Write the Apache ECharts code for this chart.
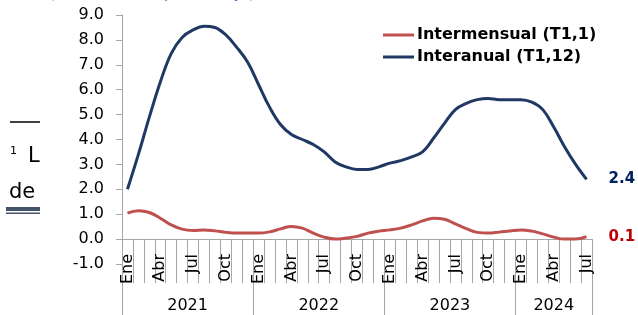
<!DOCTYPE html>
<html>
<head>
<meta charset="utf-8">
<script src="https://cdn.jsdelivr.net/npm/echarts@6/dist/echarts.min.js"></script>
<style>html,body{margin:0;padding:0;background:#fff}#c{width:638px;height:315px}</style>
</head>
<body>
<div id="c"></div>
<script>
var monthNames = ['Ene','Feb','Mar','Abr','May','Jun','Jul','Ago','Sep','Oct','Nov','Dic'];
var years = ['2021','2022','2023','2024'];
var monthsPerYear = [12, 12, 12, 7];
var shownMonths = ['Ene','Abr','Jul','Oct'];
var yTicks = {min: -1, max: 9, interval: 1};
var seriesNames = ['Intermensual (T1,1)', 'Interanual (T1,12)'];
var intermensual = [1.04,1.14,1.07,0.84,0.57,0.40,0.35,0.37,0.33,0.27,0.24,0.24,
                    0.24,0.29,0.41,0.51,0.44,0.24,0.08,0.0,0.04,0.11,0.24,0.32,
                    0.37,0.44,0.57,0.73,0.84,0.80,0.61,0.42,0.27,0.24,0.28,0.33,
                    0.37,0.32,0.21,0.08,0.0,0.0,0.1];
var interanual = [2.0,3.4,4.9,6.3,7.45,8.1,8.4,8.55,8.5,8.2,7.7,7.1,
                  6.2,5.3,4.6,4.2,4.0,3.8,3.5,3.1,2.9,2.8,2.8,2.9,
                  3.05,3.15,3.3,3.5,4.05,4.65,5.2,5.45,5.6,5.65,5.6,5.6,
                  5.6,5.5,5.2,4.5,3.7,3.0,2.4];

// build month categories
var categories = [];
years.forEach(function (y, yi) {
  for (var m = 0; m < monthsPerYear[yi]; m++) categories.push(monthNames[m] + ' ' + y);
});
// year axis: half-month boundary positions (boundaryGap false)
var nHalf = categories.length * 2 + 1;
var yearAxisData = [];
for (var k = 0; k < nHalf; k++) yearAxisData.push('k' + k);
var yearLabelAt = {};
var yearTickAt = {};
var s = 0;
years.forEach(function (y, yi) {
  yearTickAt[2 * s] = true;
  yearLabelAt[2 * s + monthsPerYear[yi]] = y;
  s += monthsPerYear[yi];
});
yearTickAt[2 * s] = true;

var FONT = 'DejaVu Sans';
var axisGrey = '#a6a6a6';
var chart = echarts.init(document.getElementById('c'));
chart.setOption({
  animation: false,
  textStyle: {fontFamily: FONT},
  title: {
    text: '(Variación, en porcentaje)',
    left: 45, top: -19,
    textStyle: {fontFamily: FONT, fontSize: 16, fontWeight: 'normal', fontStyle: 'italic', color: '#4472C4'}
  },
  graphic: [
    {type: 'line', shape: {x1: 10, y1: 122, x2: 40, y2: 122}, style: {stroke: '#000', lineWidth: 1.5}},
    {type: 'text', left: 10, top: 146, style: {text: '1', fontFamily: FONT, fontSize: 11, fill: '#000'}},
    {type: 'text', left: 28, top: 146, style: {text: 'L', fontFamily: FONT, fontSize: 21, fill: '#000'}},
    {type: 'text', left: 9, top: 182, style: {text: 'de', fontFamily: FONT, fontSize: 21, fill: '#000'}},
    {type: 'rect', shape: {x: 6, y: 207, width: 34, height: 4}, style: {fill: '#44546A'}},
    {type: 'rect', shape: {x: 6, y: 212.5, width: 34, height: 1.5}, style: {fill: '#44546A'}}
  ],
  legend: {
    orient: 'vertical',
    left: 378, top: 22,
    itemWidth: 31, itemHeight: 3, itemGap: 6,
    icon: 'rect',
    data: seriesNames,
    textStyle: {fontFamily: FONT, fontSize: 16, fontWeight: 'bold', color: '#000', padding: [0, 0, 0, -2]}
  },
  grid: {left: 122, right: 46, top: 15, bottom: 51, containLabel: false},
  xAxis: [
    {
      type: 'category',
      data: categories,
      boundaryGap: true,
      position: 'bottom',
      axisLine: {onZero: true, lineStyle: {color: axisGrey, width: 1}},
      axisTick: {show: true, interval: 0, length: 44, lineStyle: {color: axisGrey}},
      axisLabel: {
        interval: 0, rotate: 90, margin: -10,
        fontFamily: FONT, fontSize: 16, color: '#000',
        formatter: function (v) {
          var m = v.split(' ')[0];
          return shownMonths.indexOf(m) >= 0 ? m : '';
        }
      },
      splitLine: {show: false}
    },
    {
      type: 'category',
      data: yearAxisData,
      boundaryGap: false,
      position: 'bottom',
      axisLine: {show: false, onZero: false},
      axisTick: {
        show: true, length: 51, lineStyle: {color: axisGrey},
        interval: function (i) { return !!yearTickAt[i]; }
      },
      axisLabel: {
        interval: 0, margin: 34,
        fontFamily: FONT, fontSize: 16, color: '#000',
        formatter: function (v, i) { return yearLabelAt[i] || ''; }
      },
      splitLine: {show: false}
    }
  ],
  yAxis: {
    type: 'value',
    min: yTicks.min, max: yTicks.max, interval: yTicks.interval,
    axisLine: {show: true, lineStyle: {color: axisGrey}},
    axisTick: {show: true, length: 6, lineStyle: {color: axisGrey}},
    axisLabel: {
      margin: 18, fontFamily: FONT, fontSize: 16, color: '#000',
      formatter: function (v) { return v.toFixed(1); }
    },
    splitLine: {show: false}
  },
  series: [
    {
      name: seriesNames[0], type: 'line', data: intermensual,
      xAxisIndex: 0, smooth: 0.4, symbol: 'none',
      lineStyle: {color: '#C0504D', width: 3},
      itemStyle: {color: '#C0504D'},
      endLabel: {
        show: true, distance: 22,
        formatter: function (p) { return Number(p.value).toFixed(1); },
        fontFamily: FONT, fontSize: 15, fontWeight: 'bold', color: '#C00000'
      },
      z: 3
    },
    {
      name: seriesNames[1], type: 'line', data: interanual,
      xAxisIndex: 0, smooth: 0.4, symbol: 'none',
      lineStyle: {color: '#1F3864', width: 3},
      itemStyle: {color: '#1F3864'},
      endLabel: {
        show: true, distance: 22,
        formatter: function (p) { return Number(p.value).toFixed(1); },
        fontFamily: FONT, fontSize: 15, fontWeight: 'bold', color: '#002060'
      },
      z: 4
    }
  ]
});
</script>
</body>
</html>
